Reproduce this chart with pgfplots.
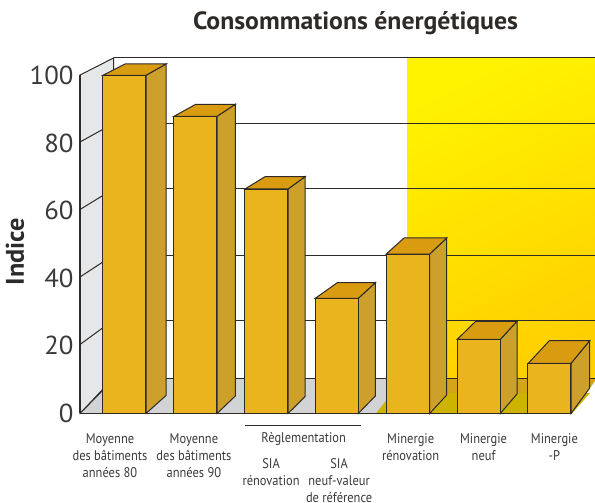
\documentclass[border=0pt]{standalone}
\usepackage{pgfplots}
\pgfplotsset{compat=1.18}
\usepackage{fontspec}
\setmainfont[FakeStretch=0.89]{PT Sans}
\newfontfamily\titlefont[FakeStretch=1.03]{PT Sans}
\definecolor{barfront}{HTML}{EAB41E}
\definecolor{barside}{HTML}{CCA02A}
\definecolor{bartop}{HTML}{D99C10}
\definecolor{wallc}{HTML}{E6E7E8}
\definecolor{floorc}{HTML}{D1D3D4}
\definecolor{floory}{HTML}{CDB400}
\definecolor{floorb}{HTML}{D4A518}
\definecolor{inkc}{HTML}{2E2A28}
\definecolor{textc}{HTML}{3A3A3C}
\pgfplotstableread{
x v
0 100
1 88
2 66.4
3 34
4 47.1
5 22
6 14.9
}\bars
\begin{document}
\begin{tikzpicture}
\path[use as bounding box] (0,0) rectangle (595pt,503pt);
% backdrop in picture coordinates
\begin{axis}[at={(0,0)},anchor=south west,scale only axis,width=595pt,height=503pt,
  xmin=0,xmax=595,ymin=0,ymax=503,y dir=reverse,hide axis,clip=false]
% yellow wall
\shade[shading=axis,top color={rgb,255:red,255;green,243;blue,0},middle color={rgb,255:red,255;green,233;blue,0},bottom color={rgb,255:red,255;green,208;blue,0},shading angle=25]
  (axis cs:407,58) rectangle (axis cs:595,378);
% left wall
\addplot[fill=wallc,draw=inkc,line width=1pt] coordinates {(80,75)(113.5,58)(113.5,378)(80,413.5)} --cycle;
% floor
\addplot[fill=floorc,draw=none] coordinates {(80,413.5)(103,390)(103,378)(407,378)(376,413.5)} --cycle;
\addplot[fill=floorb,draw=none] coordinates {(407,378)(595,378)(595,381)(572,413.5)(376,413.5)} --cycle;
\addplot[fill=floory,draw=none] coordinates {(392,393)(590,393)(572,413.5)(376,413.5)} --cycle;
% grid on the wall
\addplot[inkc,line width=1pt] coordinates {(113.5,58)(595,58)};
\addplot[inkc,line width=1pt] coordinates {(113.5,123.5)(595,123.5)};
\addplot[inkc,line width=1pt] coordinates {(113.5,189)(595,189)};
\addplot[inkc,line width=1pt] coordinates {(113.5,255)(595,255)};
\addplot[inkc,line width=1pt] coordinates {(113.5,320)(595,320)};
\addplot[inkc,line width=1pt] coordinates {(113.5,378)(595,378)};
\addplot[inkc,line width=1pt] coordinates {(80,142)(113.5,123.5)};
\addplot[inkc,line width=1pt] coordinates {(80,209.5)(113.5,189)};
\addplot[inkc,line width=1pt] coordinates {(80,277)(113.5,255)};
\addplot[inkc,line width=1pt] coordinates {(80,344.5)(113.5,320)};
\addplot[inkc,line width=1pt] coordinates {(80,413.5)(103,390)};
% side and top faces
\pgfplotsset{side/.style={fill=barside,draw=inkc,line width=1pt},top/.style={fill=bartop,draw=inkc,line width=1pt}}
\addplot[side] coordinates {(146,75.3)(166,64)(166,395.5)(146,413.5)} --cycle;
\addplot[top]  coordinates {(103,75.3)(125,64)(166,64)(146,75.3)} --cycle;
\addplot[side] coordinates {(217,116.3)(235.3,104.3)(235.3,396)(217,413.5)} --cycle;
\addplot[top]  coordinates {(174,116.3)(195.7,104.3)(235.3,104.3)(217,116.3)} --cycle;
\addplot[side] coordinates {(288,189)(305,176.7)(305,396.7)(288,413.5)} --cycle;
\addplot[top]  coordinates {(245,189)(265,176.7)(305,176.7)(288,189)} --cycle;
\addplot[side] coordinates {(358.3,298.3)(375.3,282.7)(375.3,396)(358.3,413.5)} --cycle;
\addplot[top]  coordinates {(315.3,298.3)(337.3,282.7)(375.3,282.7)(358.3,298.3)} --cycle;
\addplot[side] coordinates {(429.7,254)(446.7,238)(446.7,395)(429.7,413.5)} --cycle;
\addplot[top]  coordinates {(386.3,254)(404,238)(446.7,238)(429.7,254)} --cycle;
\addplot[side] coordinates {(500.3,339.3)(517,321.3)(517,394)(500.3,413.5)} --cycle;
\addplot[top]  coordinates {(457.3,339.3)(475.7,321.3)(517,321.3)(500.3,339.3)} --cycle;
\addplot[side] coordinates {(571,363.3)(589.7,340.7)(589.7,388)(571,413.5)} --cycle;
\addplot[top]  coordinates {(528.3,363.3)(549.3,340.7)(589.7,340.7)(571,363.3)} --cycle;
% bracket over Reglementation
\addplot[inkc,line width=.7pt] coordinates {(245,425)(360.7,425)};
\end{axis}
% front plane: bars and axis from the data
\begin{axis}[at={(80pt,89.5pt)},anchor=south west,scale only axis,width=492pt,height=338pt,
  xmin=-0.628,xmax=6.318,ymin=0,ymax=100,clip=false,
  axis y line*=left,axis x line*=bottom,axis line style={inkc,line width=1.2pt,-},
  /pgf/number format/assume math mode=true,
  ytick={0,20,40,60,80,100},
  ytick style={draw=none},
  yticklabel style={font=\fontsize{26}{26}\titlefont,text=textc,xshift=-3pt,yshift=0pt},
  xtick={-0.205,0.98,2.07,3.03,4.04,5.07,6.07},
  xticklabels={Moyenne\\des bâtiments\\années 80,Moyenne\\des bâtiments\\années 90,\mbox{}\\[18.5pt]SIA\\rénovation,\mbox{}\\[18.5pt]SIA\\neuf-valeur\\de référence,Minergie\\rénovation,Minergie\\neuf,Minergie\\-P},
  xtick style={draw=none},
  xticklabel style={font=\fontsize{14}{17}\selectfont,text=textc,align=center,anchor=north,yshift=-12pt},
  ylabel={\bfseries Indice},
  ylabel style={font=\fontsize{25.5}{25.5}\titlefont,text=inkc,at={(axis description cs:-0.106,0.479)},anchor=south},
  title={\titlefont\bfseries Consommations énergétiques},
  title style={font=\fontsize{25}{25}\selectfont,text=inkc,at={(axis description cs:0.56,1.136)},anchor=center},
  ybar,bar width=43pt]
\addplot[fill=barfront,draw=inkc,line width=1pt] table[x=x,y=v] {\bars};
\node[font=\fontsize{14}{17}\selectfont,text=textc,anchor=north] at (axis cs:2.53,-4.6) {Règlementation};
\end{axis}
\end{tikzpicture}
\end{document}
